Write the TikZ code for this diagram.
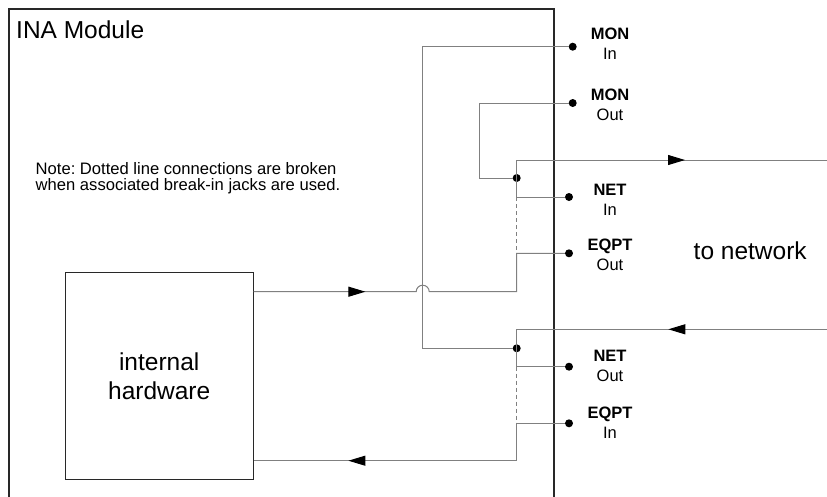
\documentclass[tikz,border=0pt]{standalone}
\usepackage{fontspec}
\setmainfont{Liberation Sans}
\frenchspacing
\usetikzlibrary{arrows.meta, decorations.markings}
\definecolor{wiregray}{RGB}{128,128,128}
\definecolor{boxgray}{RGB}{40,40,40}
\tikzstyle{jack} = [circle, fill=black, inner sep=0pt, minimum size=8pt]
\tikzstyle{jacklabel} = [align=center, inner sep=0pt, font=\fontsize{16.5}{20}\selectfont]
\tikzstyle{hardware} = [rectangle, draw=boxgray, line width=1pt, align=center,
    minimum width=188pt, minimum height=207pt, font=\fontsize{24.5}{28.3}\selectfont]
\tikzstyle{wire} = [draw=wiregray, line width=1pt]
\tikzstyle{broken} = [wire, dash pattern=on 4pt off 3pt]
\tikzset{flow/.style={wire, postaction={decorate}, decoration={markings,
    mark=at position #1 with {\arrow{Triangle[length=17pt, width=10pt, color=black]}}}}}

\begin{document}
\begin{tikzpicture}[x=1pt, y=-1pt]
    \useasboundingbox (0,0) rectangle (827,496);
    \clip (0,0) rectangle (827,496);
    % Module
    \draw[boxgray, line width=1.2pt] (9,510) -- (9,9) -- (554,9) -- (554,510);
    \node[anchor=base west, inner sep=0pt, font=\fontsize{24.5}{28}\selectfont] (title) at (16,38.3) {INA Module};
    \node[anchor=west, inner sep=0pt, align=left, font=\fontsize{16.6}{16.5}\selectfont] (note) at (35.5,178)
        {Note: Dotted line connections are broken\\when associated break-in jacks are used.};
    \node[hardware] (hw) at (159.2,376.3) {internal\\hardware};
    \node[anchor=base west, inner sep=0pt, font=\fontsize{24.5}{28}\selectfont] (tonet) at (693.5,259.3) {to network};
    % Jacks
    \node[jack] (monin) at (572.7,46.7) {};
    \node[jack] (monout) at (572.7,103) {};
    \node[jack] (netin) at (569,197) {};
    \node[jack] (eqptout) at (569,253.3) {};
    \node[jack] (netout) at (569,366.7) {};
    \node[jack] (eqptin) at (569,423.3) {};
    \node[jacklabel] (moninlabel) at (610,44) {\textbf{MON}\\In};
    \node[jacklabel] (monoutlabel) at (610,105) {\textbf{MON}\\Out};
    \node[jacklabel] (netinlabel) at (610,199.5) {\textbf{NET}\\In};
    \node[jacklabel] (eqptoutlabel) at (610,255) {\textbf{EQPT}\\Out};
    \node[jacklabel] (netoutlabel) at (610,366) {\textbf{NET}\\Out};
    \node[jacklabel] (eqptinlabel) at (610,422.7) {\textbf{EQPT}\\In};
    % Junctions and corners
    \node[jack] (j1) at (516.7,178) {};
    \node[jack] (j2) at (516.7,348.3) {};
    \coordinate (c1) at (516.7,160);
    \coordinate (c2) at (516.7,329.3);
    \coordinate (c3) at (516.7,291.7);
    \coordinate (c4) at (516.7,460.7);
    \coordinate (m1) at (422.7,348.3);
    \coordinate (m2) at (479.3,178);
    \coordinate (netr1) at (827,160);
    \coordinate (netr2) at (827,329.3);
    \coordinate (hwo) at (hw.east |- c3);
    \coordinate (hwi) at (hw.east |- c4);
    % Edges
    \path[flow=-142pt] (netin) -| (c1) -- (netr1);
    \path[flow=158.7pt] (netr2) -- (c2) |- (netout);
    \path[flow=111.7pt] (hwo) -- (416.2,291.7) arc[start angle=180, end angle=360, radius=6.5] -- (c3) |- (eqptout);
    \path[flow=-94.7pt] (eqptin) -| (c4) -- (hwi);
    \path[wire] (monout) -| (m2) -- (j1);
    \path[wire] (monin) -| (m1) -- (j2);
    \path[broken] (netin -| c1) -- (eqptout -| c1);
    \path[broken] (netout -| c2) -- (eqptin -| c2);
\end{tikzpicture}
\end{document}
